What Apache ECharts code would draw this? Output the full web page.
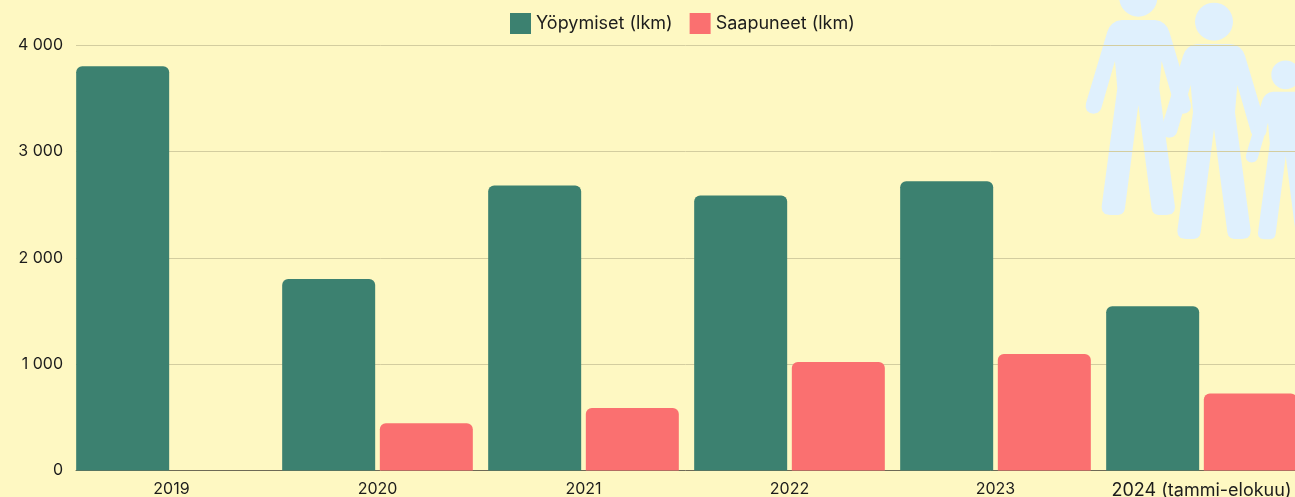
<!DOCTYPE html>
<html>
<head>
<meta charset="utf-8">
<script src="https://cdn.jsdelivr.net/npm/echarts@6/dist/echarts.min.js"></script>
<style>
  html, body { margin: 0; padding: 0; background: #fef8c2; overflow: hidden; }
  #chart { width: 1295px; height: 497px; }
</style>
</head>
<body>
<div id="chart"></div>
<script>
const years = ["2019", "2020", "2021", "2022", "2023", "2024 (tammi-elokuu)"];
const nights = [3800, 1800, 2680, 2585, 2720, 1545];
const arrivals = [null, 445, 587, 1020, 1095, 725];

const textColor = "#1c1c1c";
const fontName = "Inter";

// family icon: right half of one figure, mirrored, in a 3x larger unit and scaled down
const personHalf = [
  [0, 0], [50, 0], [65, 3], [78, 11], [87, 22], [93, 35], [157, 250], [158, 262], [154, 272],
  [145, 279], [134, 281], [122, 278], [114, 271], [111, 265], [70, 123], [63, 205], [110, 560],
  [108, 573], [100, 582], [85, 585], [60, 585], [50, 582], [43, 575], [40, 565], [0, 255],
];
const personOutline = personHalf.concat(
  personHalf.slice(1, -1).reverse().map(([x, y]) => [-x, y])
);

const person = (cx, top, s) => ({
  type: "group",
  x: cx,
  y: top,
  scaleX: s / 3,
  scaleY: s / 3,
  z: 5,
  children: [
    { type: "circle", shape: { cx: 0, cy: -67, r: 57 }, style: { fill: "#dff0fd" } },
    { type: "polygon", shape: { points: personOutline }, style: { fill: "#dff0fd" } },
  ],
});

const chart = echarts.init(document.getElementById("chart"));
chart.setOption({
  backgroundColor: "#fef8c2",
  animation: false,
  color: ["#3c8170", "#fa7070"],
  legend: {
    left: 505,
    top: 8,
    itemWidth: 21,
    itemHeight: 21,
    itemGap: 17,
    icon: "rect",
    textStyle: { color: textColor, fontFamily: fontName, fontSize: 18 },
    data: ["Yöpymiset (lkm)", "Saapuneet (lkm)"],
  },
  // first grid holds the y labels and rules, second one the bars (starts a bit further left)
  grid: [
    { left: 76, top: 45, width: 1219, height: 425.5, outerBoundsMode: "none" },
    { left: 68.5, top: 45, width: 1236, height: 425.5, outerBoundsMode: "none" },
  ],
  xAxis: [
    {
      type: "category",
      gridIndex: 0,
      data: years,
      axisLine: { show: true, lineStyle: { color: "#6e6a55", width: 1 } },
      axisTick: { show: false },
      axisLabel: { show: false },
    },
    {
      type: "category",
      gridIndex: 1,
      data: years,
      axisLine: { show: false },
      axisTick: { show: false },
      axisLabel: {
        color: textColor,
        fontFamily: fontName,
        fontSize: 16,
        margin: 11,
        interval: 0,
        hideOverlap: false,
        // the long label runs wider than the plain years
        formatter: (v) => (v.length > 4 ? `{wide|${v}}` : v),
        rich: { wide: { fontFamily: fontName, fontSize: 18, color: textColor } },
      },
    },
  ],
  yAxis: [
    {
      type: "value",
      gridIndex: 0,
      min: 0,
      max: 4000,
      interval: 1000,
      axisLine: { show: false },
      axisTick: { show: false },
      axisLabel: {
        color: textColor,
        fontFamily: fontName,
        fontSize: 16,
        margin: 13,
        formatter: (v) => String(v).replace(/\B(?=(\d{3})+$)/g, " "),
      },
      splitLine: { lineStyle: { color: "#d3cd9f", width: 1 } },
    },
    {
      type: "value",
      gridIndex: 1,
      min: 0,
      max: 4000,
      interval: 1000,
      show: false,
    },
  ],
  series: [
    {
      name: "Yöpymiset (lkm)",
      type: "bar",
      xAxisIndex: 1,
      yAxisIndex: 1,
      data: nights,
      barWidth: 93,
      barGap: "5%",
      itemStyle: { borderRadius: [6, 6, 0, 0] },
    },
    {
      name: "Saapuneet (lkm)",
      type: "bar",
      xAxisIndex: 1,
      yAxisIndex: 1,
      data: arrivals,
      barWidth: 93,
      itemStyle: { borderRadius: [6, 6, 0, 0] },
    },
  ],
  graphic: [person(1138.3, 20, 1), person(1214, 44, 1), person(1285.7, 91.7, 0.757)],
});
</script>
</body>
</html>
